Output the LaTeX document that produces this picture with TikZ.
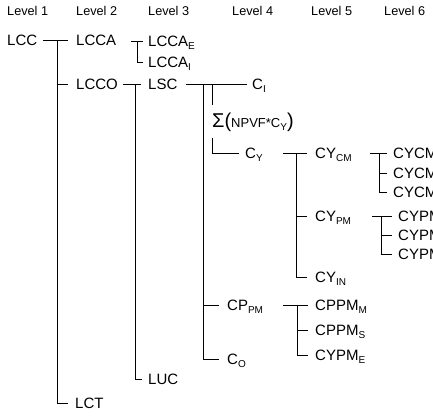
\documentclass[tikz,border=0pt]{standalone}
\usepackage{fontspec}
\setmainfont{Liberation Sans}
\usetikzlibrary{positioning}
\newcommand\sub[1]{\raisebox{-3pt}{\fontsize{10}{10}\selectfont #1}}

\begin{document}
\begin{tikzpicture}[x=1pt,y=-1pt,
  hdr/.style={anchor=base west,inner sep=0pt,font=\fontsize{12.7}{14}\selectfont},
  lbl/.style={anchor=west,inner sep=0pt,text height=10.7pt,text depth=0pt,font=\fontsize{15}{18}\selectfont},
  tree/.style={line width=0.9pt}]
  \useasboundingbox (0,0) rectangle (433,416);
  % column headings
  \node[hdr] (h1) at (7,15.7) {Level 1};
  \node[hdr] (h2) at (76,15.7) {Level 2};
  \node[hdr] (h3) at (148,15.7) {Level 3};
  \node[hdr] (h4) at (232,15.7) {Level 4};
  \node[hdr] (h5) at (311,15.7) {Level 5};
  \node[hdr] (h6) at (384,15.7) {Level 6};
  % labels
  \node[lbl] (lcc) at (7,40) {LCC};
  \node[lbl] (lcca) at (76,40) {LCCA};
  \node[lbl] (lccae) at (148,41) {LCCA\sub{E}};
  \node[lbl] (lccai) at (148,62) {LCCA\sub{I}};
  \node[lbl] (lcco) at (76,84) {LCCO};
  \node[lbl] (lsc) at (148,84) {LSC};
  \node[lbl] (ci) at (252,84) {C\sub{I}};
  \node[anchor=base west,inner sep=0pt] (sigma) at (212,127)
    {\fontsize{20}{20}\selectfont Σ(\fontsize{13}{13}\selectfont NPVF*C\sub{Y}\fontsize{20}{20}\selectfont)};
  \node[lbl] (cy) at (245,153) {C\sub{Y}};
  \node[lbl] (cycm) at (315,153) {CY\sub{CM}};
  \node[lbl] (cycma) at (393,153) {CYCM};
  \node[lbl] (cycmb) at (393,173) {CYCM};
  \node[lbl] (cycmc) at (393,192) {CYCM};
  \node[lbl] (cypm) at (315,216) {CY\sub{PM}};
  \node[lbl] (cypma) at (398,216) {CYPM};
  \node[lbl] (cypmb) at (398,235) {CYPM};
  \node[lbl] (cypmc) at (398,254) {CYPM};
  \node[lbl] (cyin) at (315,277) {CY\sub{IN}};
  \node[lbl] (cppm) at (227,305) {CP\sub{PM}};
  \node[lbl] (cppmm) at (315,305) {CPPM\sub{M}};
  \node[lbl] (cppms) at (315,330) {CPPM\sub{S}};
  \node[lbl] (cypme) at (315,355) {CYPM\sub{E}};
  \node[lbl] (co) at (227,359) {C\sub{O}};
  \node[lbl] (luc) at (148,379) {LUC};
  \node[lbl] (lct) at (75,403) {LCT};
  % level 1
  \draw[tree] ([xshift=6pt]lcc.east) -- ([xshift=-8pt]lcca.west);
  \coordinate (b1) at (57,40);
  \draw[tree] (b1) |- ([xshift=-7pt]lct.west);
  \draw[tree] (b1 |- lcco) -- ([xshift=-8pt]lcco.west);
  % level 2
  \draw[tree] ([xshift=-17pt]lccae.west) -- ([xshift=-5pt]lccae.west);
  \draw[tree] ([xshift=-11pt]lccae.west) |- ([xshift=-5pt]lccai.west);
  \draw[tree] ([xshift=5pt]lcco.east) -- ([xshift=-7pt]lsc.west);
  \draw[tree] ([xshift=-13pt]lsc.west) |- ([xshift=-6pt]luc.west);
  % level 3
  \draw[tree] ([xshift=8pt]lsc.east) -- ([xshift=-5pt]ci.west);
  \coordinate (b3) at (203,84);
  \draw[tree] (b3) |- ([xshift=-8pt]co.west);
  \draw[tree] (b3 |- cppm) -- ([xshift=-8pt]cppm.west);
  \draw[tree] (sigma.base west |- lsc) -- ++(0,21);
  \draw[tree] ([yshift=-11pt]sigma.base west) |- ([xshift=-6pt]cy.west);
  % level 4
  \draw[tree] ([xshift=-32pt]cycm.west) -- ([xshift=-8pt]cycm.west);
  \coordinate (b4) at ([xshift=-19pt]cycm.west);
  \draw[tree] (b4) |- ([xshift=-8pt]cyin.west);
  \draw[tree] (b4 |- cypm) -- ([xshift=-8pt]cypm.west);
  \draw[tree] ([xshift=-32pt]cppmm.west) -- ([xshift=-7pt]cppmm.west);
  \coordinate (b5) at ([xshift=-18pt]cppmm.west);
  \draw[tree] (b5) |- ([xshift=-7pt]cypme.west);
  \draw[tree] (b5 |- cppms) -- ([xshift=-7pt]cppms.west);
  % level 5
  \draw[tree] ([xshift=-23pt]cycma.west) -- ([xshift=-6pt]cycma.west);
  \coordinate (b6) at ([xshift=-14pt]cycma.west);
  \draw[tree] (b6) |- ([xshift=-6pt]cycmc.west);
  \draw[tree] (b6 |- cycmb) -- ([xshift=-6pt]cycmb.west);
  \draw[tree] ([xshift=-26pt]cypma.west) -- ([xshift=-6pt]cypma.west);
  \coordinate (b7) at ([xshift=-17pt]cypma.west);
  \draw[tree] (b7) |- ([xshift=-6pt]cypmc.west);
  \draw[tree] (b7 |- cypmb) -- ([xshift=-6pt]cypmb.west);
\end{tikzpicture}
\end{document}
